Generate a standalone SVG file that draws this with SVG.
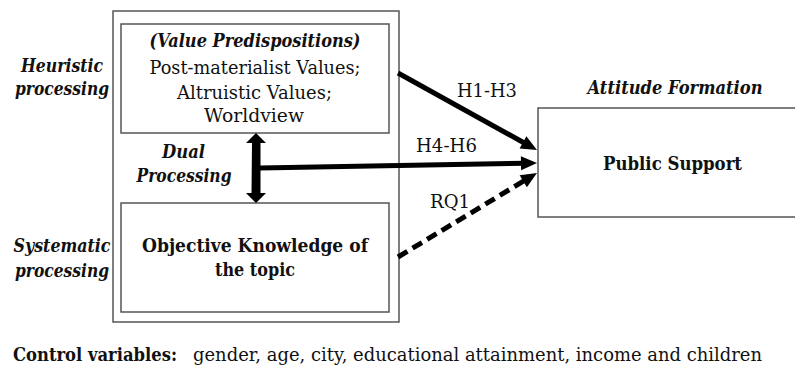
<svg xmlns="http://www.w3.org/2000/svg" width="795" height="367" viewBox="0 0 795 367" font-family="DejaVu Serif, Liberation Serif, serif">
<style>
text{font-size:18px;fill:#111;}
.c{text-anchor:middle;}
.b{font-weight:bold;}
.bi{font-weight:bold;font-style:italic;}
.box{fill:#fff;stroke:#555;stroke-width:1.5;}
.arr{stroke:#000;stroke-width:5;fill:none;}
</style>
<defs>
<marker id="ah" markerUnits="userSpaceOnUse" markerWidth="18" markerHeight="16" refX="4" refY="7" orient="auto" overflow="visible">
<path d="M0,0 L16,7 L0,14 Z" fill="#000"/>
</marker>
</defs>
<rect width="795" height="367" fill="#fff"/>
<g id="outer">
<rect class="box" x="113" y="11" width="286" height="311"/>
</g>
<g id="values">
<rect class="box" x="121" y="24" width="268" height="109"/>
<text class="c bi" x="255" y="47" textLength="211" lengthAdjust="spacingAndGlyphs">(Value Predispositions)</text>
<text class="c" x="255" y="74" textLength="211" lengthAdjust="spacingAndGlyphs">Post-materialist Values;</text>
<text class="c" x="254.5" y="99" textLength="155" lengthAdjust="spacingAndGlyphs">Altruistic Values;</text>
<text class="c" x="254" y="122" textLength="100" lengthAdjust="spacingAndGlyphs">Worldview</text>
</g>
<g id="knowledge">
<rect class="box" x="121" y="203" width="268" height="109"/>
<text class="c b" x="255" y="252" textLength="226" lengthAdjust="spacingAndGlyphs">Objective Knowledge of</text>
<text class="c b" x="255" y="276" textLength="80" lengthAdjust="spacingAndGlyphs">the topic</text>
</g>
<g id="heuristic">
<text class="c bi" x="62" y="72" textLength="82" lengthAdjust="spacingAndGlyphs">Heuristic</text>
<text class="c bi" x="62" y="95" textLength="94" lengthAdjust="spacingAndGlyphs">processing</text>
</g>
<g id="dual">
<text class="c bi" x="183.5" y="158" textLength="43" lengthAdjust="spacingAndGlyphs">Dual</text>
<text class="c bi" x="184" y="182" textLength="95" lengthAdjust="spacingAndGlyphs">Processing</text>
</g>
<g id="systematic">
<text class="c bi" x="62" y="252" textLength="97" lengthAdjust="spacingAndGlyphs">Systematic</text>
<text class="c bi" x="62" y="277" textLength="94" lengthAdjust="spacingAndGlyphs">processing</text>
</g>
<g id="support">
<rect class="box" x="538" y="108" width="270" height="109"/>
<text class="c b" x="672.5" y="170" textLength="139" lengthAdjust="spacingAndGlyphs">Public Support</text>
</g>
<g id="attitude">
<text class="c bi" x="675" y="94" textLength="175" lengthAdjust="spacingAndGlyphs">Attitude Formation</text>
</g>
<g id="connectors">
<path d="M252,143 L246,143 L256,133 L266,143 L260.5,143 L260.5,193 L266,193 L256,203 L246,193 L251.5,193 Z" fill="#000"/>
<line class="arr" x1="398" y1="73" x2="526.5" y2="144.2" marker-end="url(#ah)"/>
<line class="arr" x1="260" y1="168" x2="525" y2="163.2" marker-end="url(#ah)"/>
<line class="arr" x1="398" y1="257" x2="526.7" y2="179.2" stroke-dasharray="11,6" marker-end="url(#ah)"/>
<text class="c" x="487" y="97" textLength="60" lengthAdjust="spacingAndGlyphs">H1-H3</text>
<text class="c" x="446.5" y="152" textLength="61" lengthAdjust="spacingAndGlyphs">H4-H6</text>
<text class="c" x="450" y="208" textLength="40" lengthAdjust="spacingAndGlyphs">RQ1</text>
</g>
<g id="controls">
<text x="13" y="361" class="b" textLength="164" lengthAdjust="spacingAndGlyphs">Control variables:</text>
<text x="193" y="361" textLength="569" lengthAdjust="spacingAndGlyphs">gender, age, city, educational attainment, income and children</text>
</g>
</svg>
